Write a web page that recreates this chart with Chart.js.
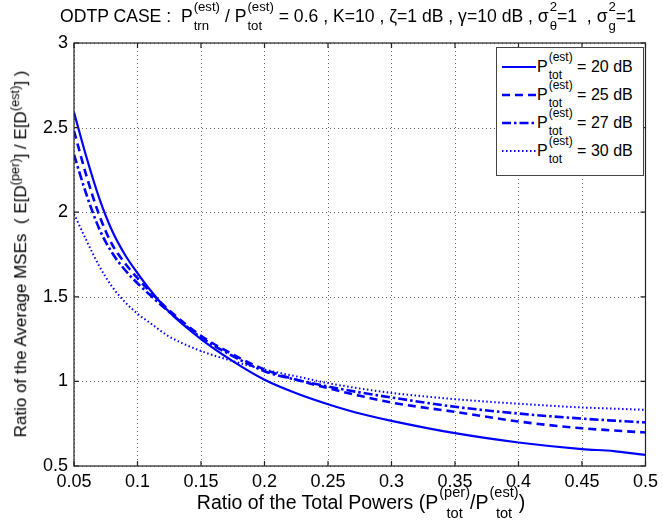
<!DOCTYPE html>
<html>
<head>
<meta charset="utf-8">
<script src="https://cdn.jsdelivr.net/npm/chart.js@4.4.1/dist/chart.umd.min.js"></script>
<style>
  html, body { margin: 0; padding: 0; background: #fff; }
  #wrap { position: relative; width: 663px; height: 529px; font-family: "Liberation Sans", Arial, sans-serif; color: #000; overflow: hidden; }
  canvas { position: absolute; left: 0; top: 0; }
  .ss { display: inline-flex; flex-direction: column; vertical-align: middle; line-height: 1; font-size: 0.75em; margin-left: 1px; }
  .ss .sp { position: relative; top: -0.3em; }
  .ss .sb { position: relative; top: 0.15em; }
  #title { position: absolute; left: 60px; top: 4px; font-size: 17.6px; white-space: nowrap; }
  #xtitle { position: absolute; left: 74px; width: 574px; top: 489px; text-align: center; font-size: 19.5px; white-space: nowrap; }
  #ytitle { position: absolute; left: 19px; top: 254px; transform: translate(-50%, -50%) rotate(-90deg); font-size: 17px; white-space: nowrap; }
  #legend { position: absolute; left: 496px; top: 47px; width: 148px; height: 129px; border: 1px solid #444; background: #fff; box-sizing: border-box; padding-top: 5px; }
  .row { display: flex; align-items: center; height: 28px; font-size: 16px; white-space: nowrap; }
  .row svg { margin-left: 5px; margin-right: 1px; }
</style>
</head>
<body>
<div id="wrap">
  <canvas id="c" width="663" height="529"></canvas>
  <div id="title"></div>
  <div id="ytitle"></div>
  <div id="xtitle"></div>
  <div id="legend"></div>
</div>
<script>
// ---- data ----
const xValues = [0.05, 0.06, 0.07, 0.08, 0.09, 0.1, 0.11, 0.125, 0.15, 0.175, 0.2, 0.225, 0.25, 0.275, 0.3, 0.35, 0.4, 0.45, 0.475, 0.5];
const mse20dB = [2.59, 2.32, 2.08, 1.89, 1.75, 1.64, 1.54, 1.41, 1.25, 1.12, 1.01, 0.93, 0.865, 0.81, 0.767, 0.694, 0.639, 0.600, 0.588, 0.565];
const mse25dB = [2.48, 2.21, 1.98, 1.81, 1.70, 1.61, 1.53, 1.42, 1.27, 1.16, 1.07, 1.01, 0.96, 0.915, 0.875, 0.82, 0.763, 0.723, 0.71, 0.698];
const mse27dB = [2.34, 2.10, 1.90, 1.76, 1.66, 1.58, 1.51, 1.41, 1.26, 1.15, 1.06, 1.01, 0.97, 0.935, 0.905, 0.85, 0.81, 0.78, 0.768, 0.757];
const mse30dB = [1.99, 1.83, 1.68, 1.56, 1.47, 1.40, 1.345, 1.265, 1.18, 1.12, 1.07, 1.03, 0.99, 0.958, 0.932, 0.895, 0.868, 0.846, 0.839, 0.832];
const seriesNames = ["20 dB", "25 dB", "27 dB", "30 dB"];
const xTickValues = [0.05, 0.1, 0.15, 0.2, 0.25, 0.3, 0.35, 0.4, 0.45, 0.5];
const xTickLabels = ["0.05", "0.1", "0.15", "0.2", "0.25", "0.3", "0.35", "0.4", "0.45", "0.5"];
const yTickValues = [0.5, 1, 1.5, 2, 2.5, 3];
const yTickLabels = ["0.5", "1", "1.5", "2", "2.5", "3"];

const BLUE = "rgb(0,0,255)";
const styles = [
  { width: 2.2, dash: [] },
  { width: 2.6, dash: [8, 5] },
  { width: 2.6, dash: [9, 3, 2.5, 3] },
  { width: 2.0, dash: [1.5, 2.5] }
];
const allSeries = [mse20dB, mse25dB, mse27dB, mse30dB];

const datasets = allSeries.map((s, i) => ({
  label: seriesNames[i],
  data: xValues.map((x, j) => ({ x: x, y: s[j] })),
  borderColor: BLUE,
  borderWidth: styles[i].width,
  borderDash: styles[i].dash,
  pointRadius: 0,
  fill: false,
  cubicInterpolationMode: "monotone"
}));

const stack = (sup, sub) => `<span class="ss"><span class="sp">${sup}</span><span class="sb">${sub}</span></span>`;

document.getElementById("title").innerHTML =
  `ODTP CASE :&nbsp; P${stack("(est)", "trn")} / P${stack("(est)", "tot")} = 0.6 , K=10 , ζ=1 dB , γ=10 dB , σ${stack("2", "θ")}=1&nbsp; , σ${stack("2", "g")}=1`;
document.getElementById("xtitle").innerHTML =
  `Ratio of the Total Powers (P${stack("(per)", "tot")}/P${stack("(est)", "tot")})`;
document.getElementById("ytitle").innerHTML =
  `Ratio of the Average MSEs&nbsp; ( E[D<sup style="font-size:0.75em">(per)</sup>] / E[D<sup style="font-size:0.75em">(est)</sup>] )`;

const legendEl = document.getElementById("legend");
seriesNames.forEach((name, i) => {
  const st = styles[i];
  const row = document.createElement("div");
  row.className = "row";
  row.innerHTML = `<svg width="34" height="10"><line x1="0" y1="5" x2="34" y2="5" stroke="${BLUE}" stroke-width="${st.width}" stroke-dasharray="${st.dash.length ? st.dash.join(',') : 'none'}"/></svg>P${stack("(est)", "tot")}&nbsp;= ${name}`;
  legendEl.appendChild(row);
});

const gridPlugin = {
  id: "dottedGrid",
  beforeDatasetsDraw(chart) {
    const { ctx, chartArea: a, scales } = chart;
    ctx.save();
    ctx.strokeStyle = "#666";
    ctx.lineWidth = 1;
    ctx.setLineDash([1, 3]);
    ctx.beginPath();
    xTickValues.forEach(v => {
      const px = Math.round(scales.x.getPixelForValue(v)) + 0.5;
      ctx.moveTo(px, a.top); ctx.lineTo(px, a.bottom);
    });
    yTickValues.forEach(v => {
      const py = Math.round(scales.y.getPixelForValue(v)) + 0.5;
      ctx.moveTo(a.left, py); ctx.lineTo(a.right, py);
    });
    ctx.stroke();
    ctx.restore();
  },
  afterDraw(chart) {
    const { ctx, chartArea: a, scales } = chart;
    ctx.save();
    ctx.strokeStyle = "#222";
    ctx.lineWidth = 1.2;
    ctx.setLineDash([]);
    ctx.strokeRect(a.left, a.top, a.right - a.left, a.bottom - a.top);
    const L = 5;
    ctx.beginPath();
    xTickValues.forEach(v => {
      const px = scales.x.getPixelForValue(v);
      ctx.moveTo(px, a.bottom); ctx.lineTo(px, a.bottom - L);
      ctx.moveTo(px, a.top); ctx.lineTo(px, a.top + L);
    });
    yTickValues.forEach(v => {
      const py = scales.y.getPixelForValue(v);
      ctx.moveTo(a.left, py); ctx.lineTo(a.left + L, py);
      ctx.moveTo(a.right, py); ctx.lineTo(a.right - L, py);
    });
    ctx.stroke();
    ctx.restore();
  }
};

new Chart(document.getElementById("c"), {
  type: "line",
  data: { datasets },
  options: {
    responsive: false,
    animation: false,
    devicePixelRatio: 1,
    layout: { padding: { top: 43, right: 15, left: 0, bottom: 0 } },
    plugins: { legend: { display: false }, title: { display: false }, tooltip: { enabled: false } },
    scales: {
      x: {
        type: "linear",
        min: 0.05, max: 0.5,
        afterBuildTicks: s => { s.ticks = xTickValues.map(v => ({ value: v })); },
        afterFit: s => { s.height = 63; },
        ticks: {
          font: { family: "Liberation Sans", size: 18 },
          color: "#000",
          padding: 5,
          maxRotation: 0,
          callback: (v) => xTickLabels[xTickValues.findIndex(t => Math.abs(t - v) < 1e-9)]
        },
        grid: { display: false, drawTicks: false },
        border: { display: false }
      },
      y: {
        type: "linear",
        min: 0.5, max: 3,
        afterBuildTicks: s => { s.ticks = yTickValues.map(v => ({ value: v })); },
        afterFit: s => { s.width = 74; },
        ticks: {
          font: { family: "Liberation Sans", size: 18 },
          color: "#000",
          padding: 6,
          callback: (v) => yTickLabels[yTickValues.findIndex(t => Math.abs(t - v) < 1e-9)]
        },
        grid: { display: false, drawTicks: false },
        border: { display: false }
      }
    }
  },
  plugins: [gridPlugin]
});
</script>
</body>
</html>
